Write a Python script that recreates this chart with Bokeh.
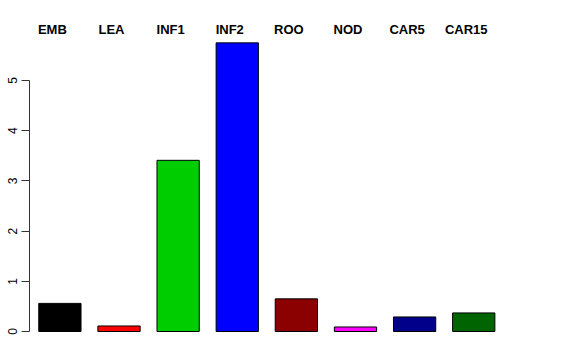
from bokeh.plotting import figure
from bokeh.models import FixedTicker, Range1d, ColumnDataSource
from bokeh.core.properties import value
from bokeh.embed import file_html
from bokeh.resources import INLINE

tissues = ["EMB", "LEA", "INF1", "INF2", "ROO", "NOD", "CAR5", "CAR15"]
expression = [0.56, 0.11, 3.41, 5.75, 0.65, 0.09, 0.29, 0.37]
colors = ["#000000", "#FF0000", "#00CD00", "#0000FF", "#8B0000", "#FF00FF", "#00008B", "#006400"]
y_ticks = [0, 1, 2, 3, 4, 5]

xpos = list(range(len(tissues)))
src = ColumnDataSource(dict(x=xpos, top=expression, color=colors, name=tissues,
                            ly=[6.02] * len(tissues)))

p = figure(width=576, height=360, output_backend="svg", toolbar_location=None,
           x_axis_location=None, min_border_left=29, min_border_right=20,
           min_border_top=0, min_border_bottom=15,
           x_range=Range1d(-0.514, 8.40), y_range=Range1d(-0.279, 6.594))
p.outline_line_color = None
p.background_fill_color = "white"
p.border_fill_color = "white"
p.xgrid.visible = False
p.ygrid.visible = False

p.vbar(x="x", top="top", bottom=0, width=0.715, fill_color="color",
       line_color="#000000", line_width=1, source=src)

p.text(x="x", y="ly", text="name", x_offset=-7.5, text_align="center",
       text_baseline="middle", text_font=value("Liberation Sans"),
       text_font_style="bold", text_font_size="13px", text_color="black", source=src)

ax = p.yaxis[0]
ax.ticker = FixedTicker(ticks=y_ticks)
ax.bounds = (0, 5)
ax.minor_tick_line_color = None
ax.major_tick_out = 8
ax.major_tick_in = 0
ax.major_label_orientation = "vertical"
ax.major_label_standoff = 4
ax.major_label_text_font = "Liberation Sans"
ax.major_label_text_font_size = "12px"
ax.major_label_text_color = "black"
ax.axis_line_color = "#333333"
ax.major_tick_line_color = "#333333"

open("out.html", "w").write(file_html(p, INLINE))
